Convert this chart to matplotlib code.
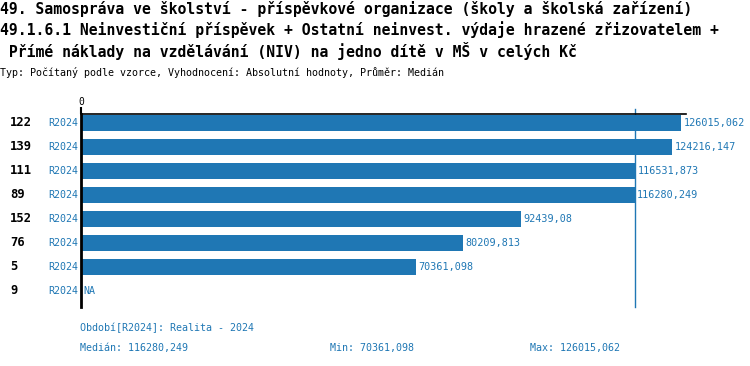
import matplotlib
matplotlib.use("Agg")
import matplotlib.pyplot as plt
import matplotlib.transforms as mtransforms
import numpy as np

# data
ids = ["122", "139", "111", "89", "152", "76", "5", "9"]
periods = ["R2024"] * 8
values = [126015.062, 124216.147, 116531.873, 116280.249, 92439.08,
          80209.813, 70361.098, np.nan]
median = 116280.249
vmin = 70361.098
vmax = 126015.062

title_lines = [
    "49. Samospráva ve školství - příspěvkové organizace (školy a školská zařízení)",
    "49.1.6.1 Neinvestiční příspěvek + Ostatní neinvest. výdaje hrazené zřizovatelem +",
    " Přímé náklady na vzdělávání (NIV) na jedno dítě v MŠ v celých Kč",
]
subtitle = "Typ: Počítaný podle vzorce, Vyhodnocení: Absolutní hodnoty, Průměr: Medián"

blue = "#1f77b4"
W, H = 750, 366
plt.rcParams['font.family'] = ['DejaVu Sans Mono']


def fx(px):
    return px / W


def fy(py):
    return 1 - py / H


def fmt(v):
    return f"{v:.3f}".rstrip("0").rstrip(".").replace(".", ",")


fig = plt.figure(figsize=(7.5, 3.66), dpi=100)
ax = fig.add_axes([fx(81), fy(307), fx(686) - fx(81), fy(114) - fy(307)])

y = np.arange(len(ids))
vals = np.array(values)
ax.barh(y, np.nan_to_num(vals), height=0.67, color=blue)
ax.set_xlim(0, 127065)
ax.set_ylim(7.667, -0.375)

for s in ["right", "bottom"]:
    ax.spines[s].set_visible(False)
ax.spines["top"].set_linewidth(1.2)
ax.spines["left"].set_linewidth(2)
ax.xaxis.tick_top()
ax.set_xticks([0])
ax.set_xticklabels(["0"], fontsize=7)
ax.tick_params(axis="x", length=5, width=1.5, pad=0)
ax.set_yticks([])

# median line
ax.plot([median, median], [-0.6, 7.667], color=blue, lw=1, clip_on=False)

trans = mtransforms.blended_transform_factory(fig.transFigure, ax.transData)
for i, (lab, per, v) in enumerate(zip(ids, periods, values)):
    ax.text(fx(10), i, lab, transform=trans, fontsize=8.8, fontweight="bold",
            va="center", ha="left")
    ax.text(fx(48), i, per, transform=trans, fontsize=7.2, color=blue,
            va="center", ha="left")
    if np.isnan(v):
        ax.text(600, i, "NA", fontsize=7.2, color=blue, va="center", ha="left")
    else:
        ax.text(v + 500, i, fmt(v), fontsize=7.3, color=blue,
                va="center", ha="left")

for k, line in enumerate(title_lines):
    fig.text(fx(0), fy(9 + 21 * k), line, fontsize=10.6, fontweight="bold",
             va="center", ha="left")
fig.text(fx(0), fy(73), subtitle, fontsize=7.2, va="center", ha="left")

fig.text(fx(80), fy(328), "Období[R2024]: Realita - 2024", fontsize=7.2,
         color=blue, va="center")
fig.text(fx(80), fy(348), "Medián: " + fmt(median), fontsize=7.2, color=blue,
         va="center")
fig.text(fx(330), fy(348), "Min: " + fmt(vmin), fontsize=7.2, color=blue,
         va="center")
fig.text(fx(530), fy(348), "Max: " + fmt(vmax), fontsize=7.2, color=blue,
         va="center")

fig.savefig("out.png", dpi=100)
